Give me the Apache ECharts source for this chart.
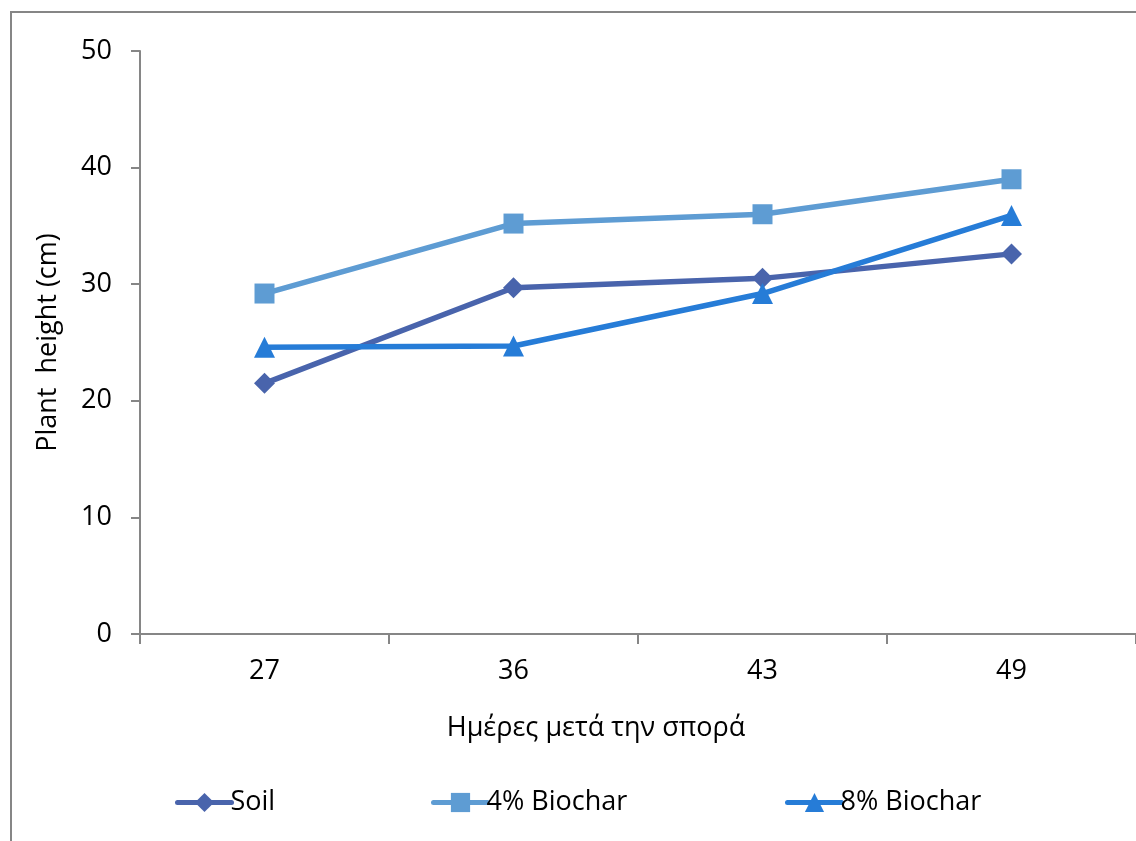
<!DOCTYPE html>
<html><head><meta charset="utf-8">
<script src="https://cdn.jsdelivr.net/npm/echarts@6/dist/echarts.min.js"></script>
<style>html,body{margin:0;padding:0;background:#fff}#c{width:1136px;height:841px}</style>
</head><body><div id="c"></div>
<script>
const categories = ['27', '36', '43', '49'];
const soil = [21.5, 29.7, 30.5, 32.6];
const biochar4 = [29.2, 35.2, 36.0, 39.0];
const biochar8 = [24.6, 24.7, 29.2, 35.9];
const seriesNames = ['Soil', '4% Biochar', '8% Biochar'];
const yTicks = [0, 10, 20, 30, 40, 50];

const FONT = 'Open Sans';
const FS = 27;
const colors = ['#4964AC', '#5E9CD3', '#267CD7'];
const chart = echarts.init(document.getElementById('c'));
const mk = (name, data, color, symbol, size) => ({
  name, type: 'line', data, symbol, symbolSize: size,
  lineStyle: {color, width: 5.5}, itemStyle: {color}, color
});
function legend(name, left) {
  return {data: [name], left, top: 784, itemWidth: 54, itemHeight: 24, itemGap: 0,
    lineStyle: {width: 5, cap: 'round'},
    textStyle: {fontFamily: FONT, fontSize: FS, color: '#000', padding: [0,0,0,-6]}};
}
chart.setOption({
  animation: false,
  grid: {left: 140, right: 0, top: 51, bottom: 207},
  graphic: [
    {type: 'rect', shape: {x: 11, y: 12, width: 1200, height: 900},
     style: {fill: null, stroke: '#868686', lineWidth: 2}},
    {type: 'text', x: 596, y: 728, style: {text: 'Ημέρες μετά την σπορά', fontFamily: FONT, fontSize: FS, fill: '#000', align: 'center', verticalAlign: 'middle'}}
  ],
  legend: [legend('Soil', 170), legend('4% Biochar', 426), legend('8% Biochar', 780)],
  xAxis: {type: 'category', data: categories, boundaryGap: true,
    axisLine: {lineStyle: {color: '#868686', width: 2}},
    axisTick: {show: true, length: 10, lineStyle: {color: '#868686', width: 2}},
    axisLabel: {fontFamily: FONT, fontSize: FS, color: '#000', margin: 24}},
  yAxis: {type: 'value', min: 0, max: 50, interval: 10,
    name: 'Plant  height (cm)', nameLocation: 'middle', nameGap: 78,
    nameTextStyle: {fontFamily: FONT, fontSize: FS, color: '#000'},
    axisLine: {show: true, lineStyle: {color: '#868686', width: 2}},
    axisTick: {show: true, length: 9, lineStyle: {color: '#868686', width: 2}},
    splitLine: {show: false},
    axisLabel: {fontFamily: FONT, fontSize: FS, color: '#000', margin: 28,
      formatter: v => yTicks.includes(v) ? String(v) : ''}},
  series: [
    mk(seriesNames[0], soil, colors[0], 'diamond', 21),
    mk(seriesNames[1], biochar4, colors[1], 'rect', 20),
    mk(seriesNames[2], biochar8, colors[2], 'triangle', 21)
  ]
});
</script></body></html>
